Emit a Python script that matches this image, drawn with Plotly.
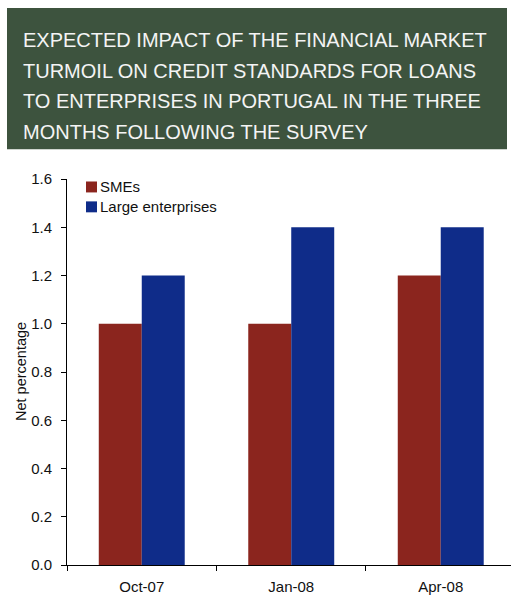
import plotly.graph_objects as go

# Survey rounds and net percentages for each enterprise size
periods = ["Oct-07", "Jan-08", "Apr-08"]
series_names = ["SMEs", "Large enterprises"]
smes = [1.0, 1.0, 1.2]
large = [1.2, 1.4, 1.4]
y_ticks = [0.0, 0.2, 0.4, 0.6, 0.8, 1.0, 1.2, 1.4, 1.6]
title_lines = [
    "EXPECTED IMPACT OF THE FINANCIAL MARKET",
    "TURMOIL ON CREDIT STANDARDS FOR LOANS",
    "TO ENTERPRISES IN PORTUGAL IN THE THREE",
    "MONTHS FOLLOWING THE SURVEY",
]

colors = ["#8b251e", "#0f2c89"]
FONT = "Liberation Sans, Arial, sans-serif"

# Plot area in pixels
W_FIG, H_FIG = 511, 595
L, R, T, B = 67, 511, 179, 567


def fx(px):
    return (px - L) / (R - L)


def fy(py):
    return (B - py) / (B - T)


fig = go.Figure()
for name, vals, col in zip(series_names, [smes, large], colors):
    fig.add_trace(go.Bar(x=periods, y=vals, name=name, marker=dict(color=col, line=dict(width=0)),
                         showlegend=False))

# Title banner
fig.add_shape(type="rect", xref="paper", yref="paper",
              x0=fx(7), x1=fx(507), y0=fy(149), y1=fy(7),
              fillcolor="#3d533e", line=dict(width=0), layer="above")
for i, line in enumerate(title_lines):
    fig.add_annotation(text=line, xref="paper", yref="paper", x=fx(21), y=fy(39 + 31 * i),
                       xanchor="left", yanchor="middle", showarrow=False,
                       font=dict(family=FONT, size=20, color="#f4f4f4"))

# Legend
for i, (name, col) in enumerate(zip(series_names, colors)):
    cy = 187 + 20 * i
    fig.add_shape(type="rect", xref="paper", yref="paper",
                  x0=fx(86), x1=fx(97), y0=fy(cy + 5.5), y1=fy(cy - 5.5),
                  fillcolor=col, line=dict(width=0))
    fig.add_annotation(text=name, xref="paper", yref="paper", x=fx(98), y=fy(cy),
                       xanchor="left", yanchor="middle", showarrow=False,
                       font=dict(family=FONT, size=15, color="#111111"))

# Y axis title
fig.add_annotation(text="Net percentage", xref="paper", yref="paper", x=fx(21), y=fy(373),
                   xanchor="center", yanchor="middle", textangle=-90, showarrow=False,
                   font=dict(family=FONT, size=14.5, color="#111111"))

fig.update_layout(
    width=W_FIG, height=H_FIG,
    margin=dict(l=L, r=W_FIG - R, t=T, b=H_FIG - B, pad=0),
    paper_bgcolor="white", plot_bgcolor="white",
    barmode="group", bargap=0.425, bargroupgap=0,
    font=dict(family=FONT, size=15, color="#111111"),
    showlegend=False,
)
fig.update_xaxes(
    type="category", range=[-0.5, 2.47], tickson="boundaries",
    ticks="outside", ticklen=5, tickcolor="black", tickwidth=1,
    showline=True, linecolor="black", linewidth=1, showgrid=False,
    tickfont=dict(family=FONT, size=15, color="#111111"), ticklabelstandoff=8,
)
fig.update_yaxes(
    range=[0, 1.6], tickvals=y_ticks, ticktext=[f"{v:.1f}" for v in y_ticks],
    ticks="outside", ticklen=5, tickcolor="black", tickwidth=1,
    showline=True, linecolor="black", linewidth=1, showgrid=False, zeroline=False,
    tickfont=dict(family=FONT, size=15, color="#111111"), ticklabelstandoff=6,
)

fig.write_html("out.html")
